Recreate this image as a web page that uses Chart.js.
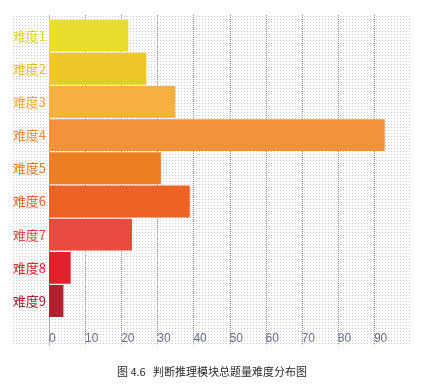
<!DOCTYPE html>
<html>
<head>
<meta charset="utf-8">
<script src="https://cdn.jsdelivr.net/npm/chart.js@4.4.1/dist/chart.umd.min.js"></script>
<style>
    html, body { margin: 0; padding: 0; background: #fff; }
    #wrap { position: relative; width: 424px; height: 389px; }
    #caption {
        position: absolute; left: 0; top: 363px; width: 424px;
        text-align: center; font: 11px "Noto Sans CJK SC", sans-serif; color: #2a2a2a;
    }
</style>
</head>
<body>
<div id="wrap">
    <canvas id="difficultyChart" width="424" height="389"></canvas>
    <div id="caption">图 4.6&nbsp;&nbsp;&nbsp;判断推理模块总题量难度分布图</div>
</div>
<script>
const categories = ['难度1', '难度2', '难度3', '难度4', '难度5', '难度6', '难度7', '难度8', '难度9'];
const counts = [22, 27, 35, 93, 31, 39, 23, 6, 4];
const barColors = ['#eade2c', '#efc72b', '#f5b03f', '#f3923a', '#ec7f23', '#ef6226', '#eb4a3f', '#e2222b', '#b1202f'];
const labelColors = ['#e2d21f', '#e9bd22', '#f2a636', '#f08a31', '#ec7a1f', '#ee5e23', '#e9463f', '#e01f27', '#a81c2d'];
const tickValues = [0, 10, 20, 30, 40, 50, 60, 70, 80, 90];

// little dotted texture behind the plot
function makeDots() {
    const c = document.createElement('canvas');
    c.width = 3;
    c.height = 3;
    const g = c.getContext('2d');
    g.fillStyle = 'rgba(150,150,150,0.5)';
    g.fillRect(1, 1, 1, 1);
    return c;
}

const backdrop = {
    id: 'backdrop',
    beforeDraw(chart) {
        const ctx = chart.ctx;
        const area = chart.chartArea;
        const x = chart.scales.x;
        const top = area.top - 4;
        const bottom = area.bottom + 28;
        ctx.save();
        ctx.fillStyle = ctx.createPattern(makeDots(), 'repeat');
        ctx.fillRect(12, top, area.right - 12, bottom - top);

        // dashed grid lines
        ctx.strokeStyle = '#8c8c8c';
        ctx.lineWidth = 1;
        ctx.setLineDash([1, 1]);
        tickValues.forEach((v) => {
            if (v === 0) return;
            const px = Math.round(x.getPixelForValue(v)) + 0.5;
            ctx.beginPath();
            ctx.moveTo(px, top);
            ctx.lineTo(px, bottom);
            ctx.stroke();
        });

        // axis line
        ctx.setLineDash([]);
        ctx.strokeStyle = '#a8a8a8';
        const zx = Math.round(x.getPixelForValue(0)) + 0.5;
        ctx.beginPath();
        ctx.moveTo(zx, top);
        ctx.lineTo(zx, bottom);
        ctx.stroke();
        ctx.restore();
    },
};

const ctx = document.getElementById('difficultyChart');
const config = {
    type: 'bar',
    data: {
        labels: categories,
        datasets: [
            {
                data: counts,
                backgroundColor: barColors,
                borderWidth: 0,
                barPercentage: 0.96,
                categoryPercentage: 1,
            },
        ],
    },
    options: {
        indexAxis: 'y',
        responsive: false,
        animation: false,
        layout: {
            padding: { left: 9, right: 11, top: 19, bottom: 29 },
        },
        plugins: {
            legend: { display: false },
            tooltip: { enabled: false },
        },
        scales: {
            x: {
                min: 0,
                max: 100,
                grid: { display: false, drawTicks: false },
                border: { display: false },
                ticks: {
                    stepSize: 10,
                    align: 'start',
                    padding: 14,
                    color: '#65708c',
                    font: { family: '"Liberation Sans Narrow", "Liberation Sans", sans-serif', size: 12 },
                    callback: (value) => (tickValues.includes(value) ? value : ''),
                },
            },
            y: {
                grid: { display: false, drawTicks: false },
                border: { display: false },
                afterFit: (scale) => {
                    scale.width = 40;
                },
                ticks: {
                    padding: 3,
                    color: (c) => labelColors[c.index],
                    font: { family: '"Noto Sans CJK SC", sans-serif', size: 13 },
                },
            },
        },
    },
    plugins: [backdrop],
};

const difficultyChart = new Chart(ctx, config);
</script>
</body>
</html>
